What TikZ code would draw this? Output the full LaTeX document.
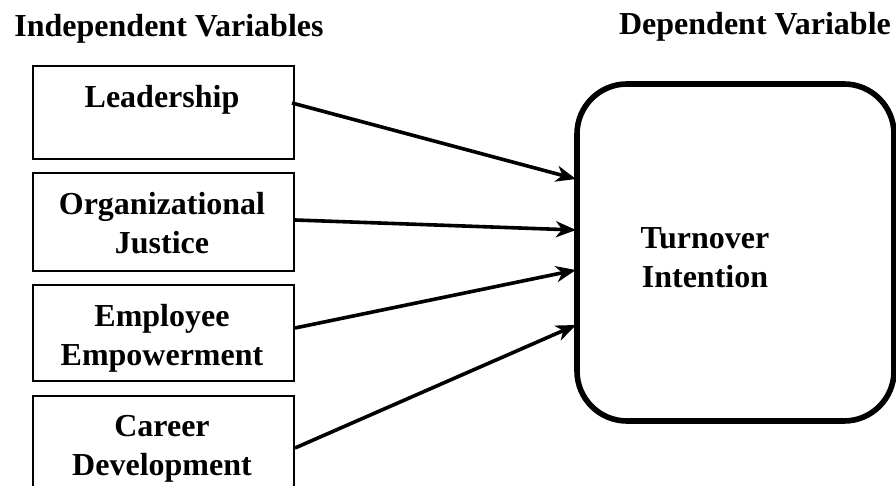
\documentclass[tikz,border=0pt]{standalone}
\usepackage{fontspec}
\setmainfont{Liberation Serif}
\usetikzlibrary{arrows.meta,calc}
\begin{document}
\begin{tikzpicture}[x=0.5pt,y=-0.5pt,
  ivbox/.style={draw,line width=1pt,rectangle,minimum width=130.5pt,inner sep=0pt,anchor=north west},
  lbl/.style={font=\fontsize{16}{19.5}\selectfont\bfseries,align=center,inner sep=0pt},
  dvbox/.style={draw,line width=2.8pt,rounded corners=25pt,inner sep=0pt},
  conn/.style={line width=1.8pt,-{Stealth[length=10pt,width=8pt,inset=3pt]}}]
\useasboundingbox (0,0) rectangle (896,486);
% headers
\node[lbl,anchor=base] (hiv) at (169,37) {Independent Variables};
\node[lbl,anchor=base] (hdv) at (755,35) {Dependent Variable};
% left boxes
\node[ivbox,minimum height=46.5pt] (lead) at (32,65) {};
\node[ivbox,minimum height=49pt] (org) at (32,172) {};
\node[ivbox,minimum height=48pt] (emp) at (32,284) {};
\node[ivbox,minimum height=50pt] (car) at (32,395) {};
\node[lbl,anchor=north] (tlead) at (162,85) {Leadership};
\node[lbl,anchor=north] (torg) at (162,192) {Organizational\\Justice};
\node[lbl,anchor=north] (temp) at (162,304) {Employee\\Empowerment};
\node[lbl,anchor=north] (tcar) at (162,415) {Career\\Development};
% right box
\draw[dvbox] (577,84) rectangle (894,421);
\coordinate (tur) at (577,252.5);
\node[lbl] (ttur) at (705,258) {Turnover\\Intention};
% connectors
\draw[conn] ($(lead.north east)+(-3,38)$) -- ($(tur)+(-1,-73.5)$);
\draw[conn] ($(org.north east)+(0,48)$) -- ($(tur)+(-1,-22.5)$);
\draw[conn] ($(emp.north east)+(0,44)$) -- ($(tur)+(-1,17.5)$);
\draw[conn] ($(car.north east)+(0,53)$) -- ($(tur)+(-1,72.5)$);
\end{tikzpicture}
\end{document}
